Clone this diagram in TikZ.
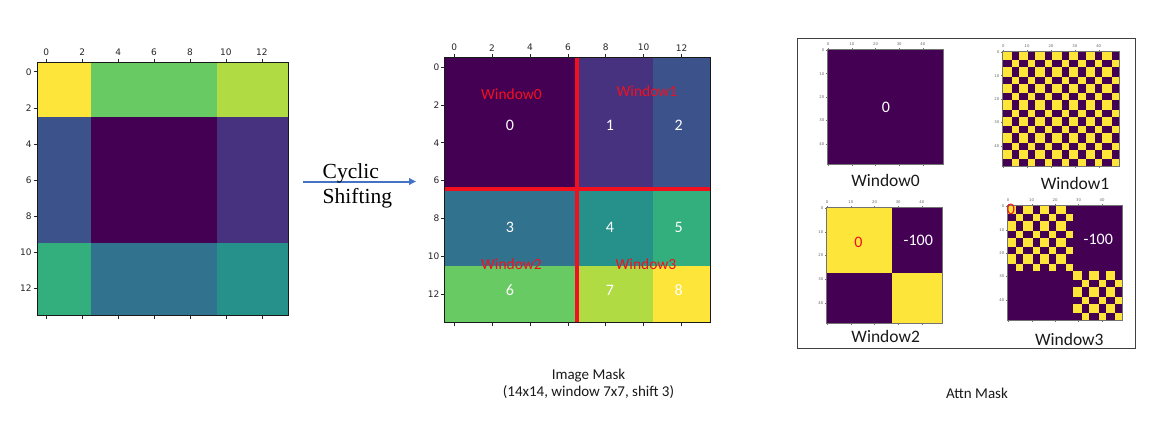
\documentclass[tikz,border=0pt]{standalone}
\usepackage{fontspec}
\setmainfont{Carlito}
\newfontfamily\dvs{DejaVu Sans}
\newfontfamily\tms{Liberation Serif}
\usetikzlibrary{arrows.meta}
\definecolor{vz0}{HTML}{440154}
\definecolor{vz1}{HTML}{46327E}
\definecolor{vz2}{HTML}{3B528B}
\definecolor{vz3}{HTML}{31728E}
\definecolor{vz4}{HTML}{26918B}
\definecolor{vz5}{HTML}{33AF7E}
\definecolor{vz6}{HTML}{67CA62}
\definecolor{vz7}{HTML}{B0DB42}
\definecolor{vz8}{HTML}{FDE53A}
\definecolor{redm}{HTML}{F2101E}
\definecolor{arrowblue}{HTML}{4472C4}
\tikzset{
  tickln/.style={line width=0.6pt, black!85},
  frameln/.style={line width=0.8pt, black!90},
  ticklab/.style={font=\dvs\fontsize{9}{10}\selectfont, inner sep=0pt, text=black!85},
  tinylab/.style={font=\dvs\fontsize{3.8}{4.5}\selectfont, inner sep=0pt, text=black!60},
  tinyln/.style={line width=0.3pt, black!55},
  numlab/.style={font=\fontsize{16}{18}\selectfont, text=white, inner sep=0pt},
  winred/.style={font=\fontsize{15.5}{18}\selectfont, text=redm, inner sep=0pt},
  winblack/.style={font=\fontsize{17.5}{20}\selectfont, text=black!90, inner sep=0pt},
  caption/.style={font=\fontsize{15}{16.8}\selectfont, text=black!90, align=center, inner sep=0pt},
  redline/.style={line width=4pt, redm},
  arrowln/.style={line width=2pt, arrowblue, -{Triangle[length=7pt,width=6.5pt]}},
  panelframe/.style={line width=1pt, black!75}
}
\newcommand\attnax[1]{%
  \draw[tinyln] (0,0) rectangle (49,49);
  \foreach \k in {0,10,...,40}{
    \draw[tinyln] (\k+0.5,0) -- ++(0pt,1.5pt);
    \draw[tinyln] (\k+0.5,49) -- ++(0pt,-1.5pt);
    \draw[tinyln] (0,\k+0.5) -- ++(-1.5pt,0pt);
    \node[tinylab] (#1t\k) at ([yshift=4.5pt]\k+0.5,0) {\k};
    \node[tinylab, anchor=east] (#1l\k) at ([xshift=-2.5pt]0,\k+0.5) {\k};
  }}
\begin{document}
\begin{tikzpicture}[x=1pt,y=-1pt]
\useasboundingbox (0,0) rectangle (1166,440);
\fill[white] (0,0) rectangle (1166,440);

% ---------- left plot ----------
\begin{scope}[xshift=37.3pt, yshift=-62.7pt, x=17.96pt, y=-18.04pt]
  \fill[vz8] (0,0) rectangle (3,3);
  \fill[vz6] (3,0) rectangle (10,3);
  \fill[vz7] (10,0) rectangle (14,3);
  \fill[vz2] (0,3) rectangle (3,10);
  \fill[vz0] (3,3) rectangle (10,10);
  \fill[vz1] (10,3) rectangle (14,10);
  \fill[vz5] (0,10) rectangle (3,14);
  \fill[vz3] (3,10) rectangle (10,14);
  \fill[vz4] (10,10) rectangle (14,14);
  \draw[frameln] (0,0) rectangle (14,14);
  \foreach \i in {0,2,...,12}{
    \draw[tickln] (\i+0.5,0) -- ++(0pt,3.5pt);
    \draw[tickln] (\i+0.5,14) -- ++(0pt,-3.5pt);
    \draw[tickln] (0,\i+0.5) -- ++(-3.5pt,0pt);
    \node[ticklab] (Lt\i) at ([yshift=10.4pt]\i+0.5,0) {\i};
    \node[ticklab, anchor=east] (Ll\i) at ([xshift=-5.4pt]0,\i+0.5) {\i};
  }
\end{scope}

% ---------- arrow ----------
\coordinate (cs1) at (303,181.5);
\coordinate (cs2) at (416,181.5);
\draw[arrowln] (cs1) -- (cs2);
\node[font=\tms\fontsize{21.5}{25.4}\selectfont, align=left, anchor=west, inner sep=0pt] (cyc) at (322.5,186) {Cyclic\\Shifting};

% ---------- middle plot ----------
\begin{scope}[xshift=444.7pt, yshift=-57.7pt, x=18.95pt, y=-18.9pt]
  \fill[vz0] (0,0) rectangle (7,7);
  \fill[vz1] (7,0) rectangle (11,7);
  \fill[vz2] (11,0) rectangle (14,7);
  \fill[vz3] (0,7) rectangle (7,11);
  \fill[vz4] (7,7) rectangle (11,11);
  \fill[vz5] (11,7) rectangle (14,11);
  \fill[vz6] (0,11) rectangle (7,14);
  \fill[vz7] (7,11) rectangle (11,14);
  \fill[vz8] (11,11) rectangle (14,14);
  \draw[frameln] (0,0) rectangle (14,14);
  \foreach \i in {0,2,...,12}{
    \draw[tickln] (\i+0.5,0) -- ++(0pt,3.5pt);
    \draw[tickln] (\i+0.5,14) -- ++(0pt,-3.5pt);
    \draw[tickln] (0,\i+0.5) -- ++(-3.5pt,0pt);
    \node[ticklab] (Mt\i) at ([yshift=10pt]\i+0.5,0) {\i};
    \node[ticklab, anchor=east] (Ml\i) at ([xshift=-5.2pt]0,\i+0.5) {\i};
  }
\end{scope}
\draw[redline] (577,57.7) -- (577,322.3);
\draw[redline] (444.7,189) -- (710,189);
\node[winred] (mw0) at (511.5,94.5) {Window0};
\node[winred] (mw1) at (647,91) {Window1};
\node[winred] (mw2) at (511.5,264.5) {Window2};
\node[winred] (mw3) at (646,264.5) {Window3};
\node[numlab] (m0) at (510,125) {0};
\node[numlab] (m1) at (610,125) {1};
\node[numlab] (m2) at (678.7,125) {2};
\node[numlab] (m3) at (510,227.7) {3};
\node[numlab] (m4) at (610,227.7) {4};
\node[numlab] (m5) at (678.7,227.7) {5};
\node[numlab] (m6) at (510,290) {6};
\node[numlab] (m7) at (610,290) {7};
\node[numlab] (m8) at (678.7,290) {8};
\node[caption] (imgcap) at (588.5,383.5) {Image Mask\\(14x14, window 7x7, shift 3)};

% ---------- right panel ----------
\draw[panelframe] (797.5,38) rectangle (1135,348);
% Window0
\begin{scope}[xshift=827pt, yshift=-49pt, x=116pt/49, y=-115pt/49]
  \fill[vz0] (0,0) rectangle (49,49);
  \attnax{a0}
\end{scope}
% Window1
\begin{scope}[xshift=1002pt, yshift=-51pt, x=117pt/49, y=-115pt/49]
  \fill[vz0] (0,0) rectangle (49,49);
  \foreach \p in {0,...,6}{\foreach \q in {0,...,6}{
    \fill[vz8] (7*\q,7*\p) rectangle ++(4,4);
    \fill[vz8] (7*\q+4,7*\p+4) rectangle ++(3,3);
  }}
  \attnax{a1}
\end{scope}
% Window2
\begin{scope}[xshift=826pt, yshift=-207pt, x=116pt/49, y=-116pt/49]
  \fill[vz0] (0,0) rectangle (49,49);
  \fill[vz8] (0,0) rectangle (28,28);
  \fill[vz8] (28,28) rectangle (49,49);
  \attnax{a2}
\end{scope}
% Window3
\begin{scope}[xshift=1007pt, yshift=-205pt, x=115pt/49, y=-115pt/49]
  \fill[vz0] (0,0) rectangle (49,49);
  \foreach \p in {0,...,3}{\foreach \q in {0,...,3}{
    \fill[vz8] (7*\q,7*\p) rectangle ++(4,4);
    \fill[vz8] (7*\q+4,7*\p+4) rectangle ++(3,3);
  }}
  \foreach \p in {0,...,2}{\foreach \q in {0,...,2}{
    \fill[vz8] (28+7*\q,28+7*\p) rectangle ++(4,4);
    \fill[vz8] (28+7*\q+4,28+7*\p+4) rectangle ++(3,3);
  }}
  \attnax{a3}
\end{scope}
\node[numlab] (r0) at (886,107.7) {0};
\node[numlab, text=redm] (r2z) at (858.3,242.3) {0};
\node[numlab] (r2m) at (918.3,240.7) {-100};
\node[numlab, text=redm] (r3z) at (1011,209.5) {0};
\node[numlab] (r3m) at (1098.3,239.3) {-100};
\node[winblack] (rw0) at (885.5,180.7) {Window0};
\node[winblack] (rw1) at (1075,183) {Window1};
\node[winblack] (rw2) at (885.7,336.7) {Window2};
\node[winblack] (rw3) at (1069.3,339.7) {Window3};
\node[caption] (attncap) at (977,393.3) {Attn Mask};
\end{tikzpicture}
\end{document}
